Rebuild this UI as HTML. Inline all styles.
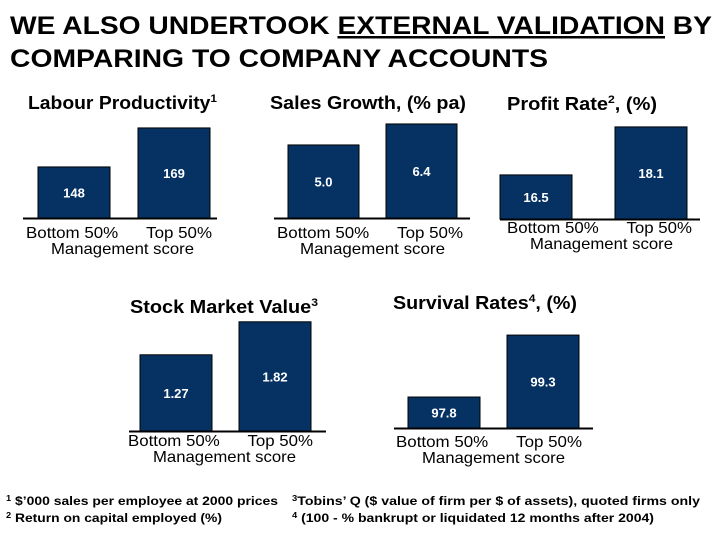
<!DOCTYPE html>
<html><head><meta charset="utf-8"><style>
body{margin:0;width:720px;height:540px;background:#fff;overflow:hidden;font-family:"Liberation Sans",Arial,sans-serif;}
svg text{font-family:"Liberation Sans",Arial,sans-serif;}
</style></head><body>
<svg id="c" width="720" height="540">
<text x="10" y="34" font-size="25" font-weight="bold" fill="#000" textLength="702" lengthAdjust="spacingAndGlyphs">WE ALSO UNDERTOOK <tspan text-decoration="underline">EXTERNAL VALIDATION</tspan> BY</text>
<text x="10" y="67" font-size="25" font-weight="bold" fill="#000" textLength="538" lengthAdjust="spacingAndGlyphs">COMPARING TO COMPANY ACCOUNTS</text>
<text x="6" y="505" font-size="12" font-weight="bold" textLength="272" lengthAdjust="spacingAndGlyphs"><tspan font-size="8" dy="-4">1</tspan><tspan dy="4"> $’000 sales per employee at 2000 prices</tspan></text>
<text x="6" y="522" font-size="12" font-weight="bold" textLength="216" lengthAdjust="spacingAndGlyphs"><tspan font-size="8" dy="-4">2</tspan><tspan dy="4"> Return on capital employed (%)</tspan></text>
<text x="292" y="505" font-size="12" font-weight="bold" textLength="408" lengthAdjust="spacingAndGlyphs"><tspan font-size="8" dy="-4">3</tspan><tspan dy="4">Tobins’ Q ($ value of firm per $ of assets), quoted firms only</tspan></text>
<text x="292" y="522" font-size="12" font-weight="bold" textLength="362" lengthAdjust="spacingAndGlyphs"><tspan font-size="8" dy="-4">4</tspan><tspan dy="4"> (100 - % bankrupt or liquidated 12 months after 2004)</tspan></text>
</svg>
<script>
const categories=["Bottom 50%","Top 50%"];
const chartTitles=["Labour Productivity","Sales Growth, (% pa)","Profit Rate","Stock Market Value","Survival Rates"];
const productivityValues=[148,169];
const salesGrowthValues=[5.0,6.4];
const profitRateValues=[16.5,18.1];
const stockValueValues=[1.27,1.82];
const survivalValues=[97.8,99.3];
const valueLabels=[["148","169"],["5.0","6.4"],["16.5","18.1"],["1.27","1.82"],["97.8","99.3"]];
const domainMins=[120.5,0.13,15.03,0,97.05];
const pxPerUnit=[1.857,15,30,60,41.3];
const series=[productivityValues,salesGrowthValues,profitRateValues,stockValueValues,survivalValues];
const layout=[
 {bx:[38,138],bw:72,base:218,ax:[23,217],tx:28,ty:109,tl:189,sup:"1",cl:[26,212],cy:238,ml:[51,194]},
 {bx:[288,386],bw:71,base:218,ax:[274,470],tx:270,ty:109,tl:196,sup:"",cl:[277,463],cy:238,ml:[300,445]},
 {bx:[500,615],bw:72,base:219,ax:[500,700],tx:507,ty:110,tl:150,sup:"2",after:", (%)",cl:[507,692],cy:233,ml:[530,673]},
 {bx:[140,239],bw:72,base:431,ax:[129,326],tx:130,ty:313,tl:188,sup:"3",cl:[128,313],cy:446,ml:[153,296]},
 {bx:[408,507],bw:72,base:428,ax:[394,593],tx:393,ty:309,tl:184,sup:"4",after:", (%)",cl:[396,582],cy:447,ml:[422,565]}
];
const NS="http://www.w3.org/2000/svg";
const svg=document.getElementById('c');
function mk(t,a,txt){const e=document.createElementNS(NS,t);for(const k in a)e.setAttribute(k,a[k]);if(txt!==undefined)e.textContent=txt;svg.appendChild(e);return e;}
function yScale(i,v){return layout[i].base-(v-domainMins[i])*pxPerUnit[i];}
series.forEach((vals,i)=>{
 const L=layout[i];
 const t=mk('text',{x:L.tx,y:L.ty,'font-size':18,'font-weight':'bold',textLength:L.tl,lengthAdjust:'spacingAndGlyphs'});
 
 
 t.textContent=chartTitles[i];
 if(L.sup){const s=document.createElementNS(NS,'tspan');s.setAttribute('font-size','11');s.setAttribute('dy','-7');s.textContent=L.sup;t.appendChild(s);}
 if(L.after){const s=document.createElementNS(NS,'tspan');s.setAttribute('dy','7');s.textContent=L.after;t.appendChild(s);}
 vals.forEach((v,j)=>{
  const y=yScale(i,v);
  const r=mk('rect',{x:L.bx[j],y:y,width:L.bw,height:L.base-y,fill:'#053263',stroke:'#000','stroke-width':1});
  
  
  const lt=mk('text',{x:L.bx[j]+L.bw/2,y:(y+L.base)/2+5,'font-size':13,'font-weight':'bold',fill:'#fff','text-anchor':'middle'},valueLabels[i][j]);
  
  
 });
 const ax=mk('line',{x1:L.ax[0],x2:L.ax[1],y1:L.base+0.5,y2:L.base+0.5,stroke:'#000','stroke-width':2});
 
 
 const c=mk('text',{x:L.cl[0],y:L.cy,'font-size':16,textLength:L.cl[1]-L.cl[0],lengthAdjust:'spacingAndGlyphs'},categories[0]+"      "+categories[1]);
 c.setAttribute('xml:space','preserve');c.style.whiteSpace='pre';
 
 
 const m=mk('text',{x:L.ml[0],y:L.cy+16,'font-size':16,textLength:L.ml[1]-L.ml[0],lengthAdjust:'spacingAndGlyphs'},"Management score");
 
 
});
</script>
</body></html>
